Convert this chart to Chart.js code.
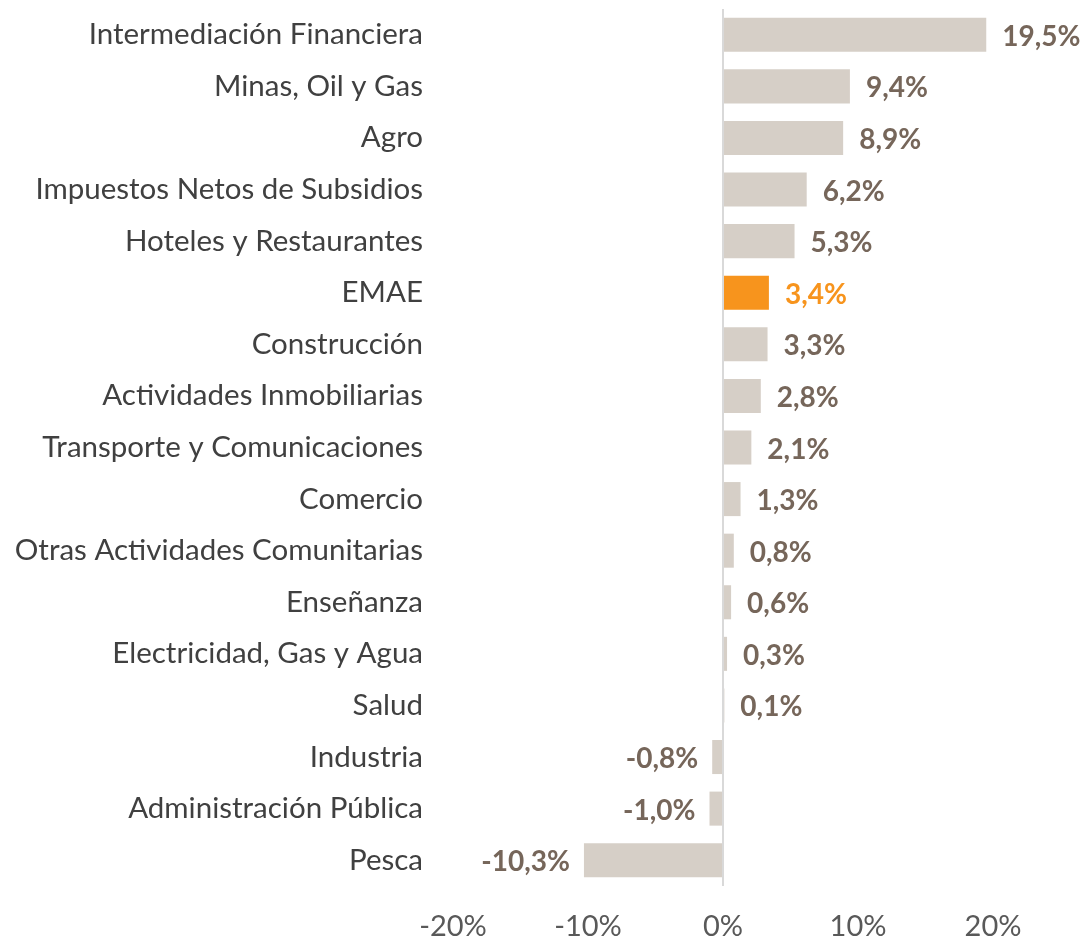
<!DOCTYPE html>
<html>
<head>
<meta charset="utf-8">
<script src="https://cdn.jsdelivr.net/npm/chart.js@4.4.0/dist/chart.umd.min.js"></script>
<style>
  html, body { margin: 0; padding: 0; background: #fff; }
  #wrap { width: 1087px; height: 940px; }
</style>
</head>
<body>
<div id="wrap"><canvas id="chart"></canvas></div>
<script>
// datos
const sectores = [
    'Intermediación Financiera', 'Minas, Oil y Gas', 'Agro', 'Impuestos Netos de Subsidios',
    'Hoteles y Restaurantes', 'EMAE', 'Construcción', 'Actividades Inmobiliarias',
    'Transporte y Comunicaciones', 'Comercio', 'Otras Actividades Comunitarias', 'Enseñanza',
    'Electricidad, Gas y Agua', 'Salud', 'Industria', 'Administración Pública', 'Pesca'
];
const variacion = [19.5, 9.4, 8.9, 6.2, 5.3, 3.4, 3.3, 2.8, 2.1, 1.3, 0.8, 0.6, 0.3, 0.1, -0.8, -1.0, -10.3];
const ticksX = [-20, -10, 0, 10, 20];
const destacado = 'EMAE';

const FONT = 'Lato, "Open Sans", sans-serif';
const colorBarra = '#D6CFC7';
const colorNaranja = '#F7941D';
const colorEtiqueta = '#76665A';

function fmt(v) {
    return v.toFixed(1).replace('.', ',') + '%';
}

// etiquetas de datos
const etiquetasPlugin = {
    id: 'etiquetas',
    afterDatasetsDraw(chart) {
        const ctx = chart.ctx;
        const meta = chart.getDatasetMeta(0);
        ctx.save();
        ctx.font = 'bold 28px ' + FONT;
        ctx.textBaseline = 'middle';
        meta.data.forEach(function(bar, i) {
            const v = variacion[i];
            ctx.fillStyle = sectores[i] === destacado ? colorNaranja : colorEtiqueta;
            if (v >= 0) {
                ctx.textAlign = 'left';
                ctx.fillText(fmt(v), bar.x + 16, bar.y + 2);
            } else {
                ctx.textAlign = 'right';
                ctx.fillText(fmt(v), bar.x - 14, bar.y + 2);
            }
        });
        ctx.restore();
    }
};

new Chart(document.getElementById('chart'), {
    type: 'bar',
    data: {
        labels: sectores,
        datasets: [{
            data: variacion,
            backgroundColor: sectores.map(s => s === destacado ? colorNaranja : colorBarra),
            borderWidth: 0,
            categoryPercentage: 0.66,
            barPercentage: 1
        }]
    },
    options: {
        indexAxis: 'y',
        responsive: true,
        maintainAspectRatio: false,
        animation: false,
        layout: { padding: { top: 9, right: 94, left: 0, bottom: 0 } },
        plugins: {
            legend: { display: false },
            tooltip: { enabled: false }
        },
        scales: {
            x: {
                min: -20,
                max: 20,
                afterBuildTicks: function(axis) {
                    axis.ticks = ticksX.map(v => ({ value: v }));
                },
                afterFit: function(axis) {
                    axis.height = 54;
                    axis.paddingLeft = 0;
                    axis.paddingRight = 0;
                },
                border: { display: false },
                grid: {
                    drawTicks: false,
                    color: ctx => ctx.tick && ctx.tick.value === 0 ? '#D9D9D9' : 'rgba(0,0,0,0)',
                    lineWidth: 2
                },
                ticks: {
                    padding: 23,
                    color: '#595959',
                    font: { family: FONT, size: 29 },
                    callback: v => v + '%'
                }
            },
            y: {
                afterFit: function(axis) {
                    axis.width = 453;
                    axis.paddingTop = 0;
                    axis.paddingBottom = 0;
                },
                border: { display: false },
                grid: { display: false, drawTicks: false },
                ticks: {
                    padding: 30,
                    color: '#404040',
                    font: { family: FONT, size: 29.5 }
                }
            }
        }
    },
    plugins: [etiquetasPlugin]
});
</script>
</body>
</html>
